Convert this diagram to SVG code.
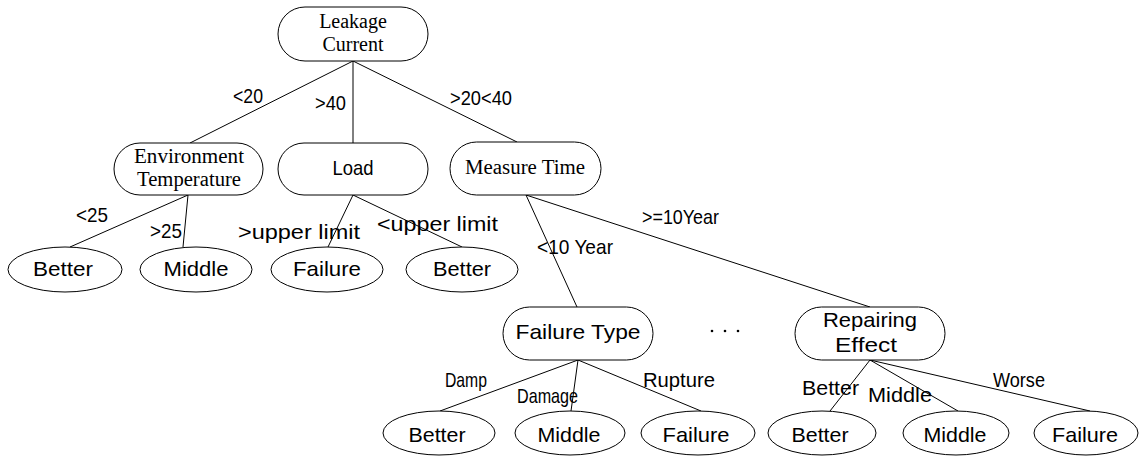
<svg xmlns="http://www.w3.org/2000/svg" width="1144" height="456" viewBox="0 0 1144 456">
<style>
.box{fill:#fff;stroke:#000;stroke-width:1}
.edge{stroke:#000;stroke-width:1;fill:none}
.serif{font-family:"Liberation Serif","Times New Roman",serif;font-size:20px;fill:#000;text-anchor:middle}
.sans{font-family:"Liberation Sans",Arial,sans-serif;font-size:21px;fill:#000}
.mid{text-anchor:middle}
</style>
<rect width="1144" height="456" fill="#fff"/>
<g id="connectors">
<line class="edge" x1="353" y1="61" x2="190" y2="143"/>
<line class="edge" x1="353" y1="61" x2="353" y2="143"/>
<line class="edge" x1="353" y1="61" x2="517" y2="142"/>
<line class="edge" x1="188" y1="195" x2="70" y2="247"/>
<line class="edge" x1="188" y1="195" x2="183" y2="247"/>
<line class="edge" x1="353" y1="195" x2="328" y2="247"/>
<line class="edge" x1="353" y1="195" x2="462" y2="247"/>
<line class="edge" x1="526" y1="195" x2="577" y2="307"/>
<line class="edge" x1="526" y1="195" x2="870" y2="307"/>
<line class="edge" x1="578" y1="360" x2="440" y2="411"/>
<line class="edge" x1="578" y1="360" x2="571" y2="411"/>
<line class="edge" x1="578" y1="360" x2="701" y2="411"/>
<line class="edge" x1="870" y1="360" x2="830" y2="411"/>
<line class="edge" x1="870" y1="360" x2="958" y2="411"/>
<line class="edge" x1="870" y1="360" x2="1090" y2="411"/>
<text class="sans" x="233" y="103" textLength="30" lengthAdjust="spacingAndGlyphs">&lt;20</text>
<text class="sans" x="315" y="110" textLength="31" lengthAdjust="spacingAndGlyphs">&gt;40</text>
<text class="sans" x="450" y="105" textLength="62" lengthAdjust="spacingAndGlyphs">&gt;20&lt;40</text>
<text class="sans" x="76" y="222" textLength="32" lengthAdjust="spacingAndGlyphs">&lt;25</text>
<text class="sans" x="150" y="238" textLength="32" lengthAdjust="spacingAndGlyphs">&gt;25</text>
<text class="sans" x="238" y="239" textLength="122" lengthAdjust="spacingAndGlyphs">&gt;upper limit</text>
<text class="sans" x="377" y="231" textLength="121" lengthAdjust="spacingAndGlyphs">&lt;upper limit</text>
<text class="sans" x="537" y="254" textLength="76" lengthAdjust="spacingAndGlyphs">&lt;10 Year</text>
<text class="sans" x="642" y="224" textLength="77" lengthAdjust="spacingAndGlyphs">&gt;=10Year</text>
<text class="sans" x="445" y="387" textLength="42" lengthAdjust="spacingAndGlyphs">Damp</text>
<text class="sans" x="517" y="403" textLength="61" lengthAdjust="spacingAndGlyphs">Damage</text>
<text class="sans" x="643" y="387" textLength="72" lengthAdjust="spacingAndGlyphs">Rupture</text>
<text class="sans" x="802" y="395" textLength="57" lengthAdjust="spacingAndGlyphs">Better</text>
<text class="sans" x="868" y="402" textLength="64" lengthAdjust="spacingAndGlyphs">Middle</text>
<text class="sans" x="993" y="387" textLength="52" lengthAdjust="spacingAndGlyphs">Worse</text>
</g>
<g id="root">
<rect class="box" x="278" y="7" width="150" height="54" rx="27"/>
<text class="serif" x="353" y="28">Leakage</text>
<text class="serif" x="353" y="51">Current</text>
</g>
<g id="env">
<rect class="box" x="114" y="143" width="149" height="52" rx="26"/>
<text class="serif" x="189" y="163" textLength="110" lengthAdjust="spacingAndGlyphs">Environment</text>
<text class="serif" x="189" y="186" textLength="104" lengthAdjust="spacingAndGlyphs">Temperature</text>
</g>
<g id="load">
<rect class="box" x="278" y="143" width="150" height="52" rx="26"/>
<text class="sans mid" x="353" y="175" textLength="41" lengthAdjust="spacingAndGlyphs">Load</text>
</g>
<g id="measure">
<rect class="box" x="450" y="142" width="151" height="53" rx="26.5"/>
<text class="serif" x="525" y="174" textLength="120" lengthAdjust="spacingAndGlyphs">Measure Time</text>
</g>
<g id="leaf1">
<ellipse class="box" cx="65" cy="269.5" rx="57" ry="22.5"/>
<text class="sans mid" x="63" y="276" textLength="60" lengthAdjust="spacingAndGlyphs">Better</text>
</g>
<g id="leaf2">
<ellipse class="box" cx="196" cy="269.5" rx="56" ry="22.5"/>
<text class="sans mid" x="196" y="276" textLength="65" lengthAdjust="spacingAndGlyphs">Middle</text>
</g>
<g id="leaf3">
<ellipse class="box" cx="327" cy="269.5" rx="56" ry="22.5"/>
<text class="sans mid" x="327" y="276" textLength="68" lengthAdjust="spacingAndGlyphs">Failure</text>
</g>
<g id="leaf4">
<ellipse class="box" cx="462" cy="269.5" rx="56" ry="22.5"/>
<text class="sans mid" x="462" y="276" textLength="58" lengthAdjust="spacingAndGlyphs">Better</text>
</g>
<g id="failtype">
<rect class="box" x="503" y="307" width="150" height="53" rx="26.5"/>
<text class="sans mid" x="578" y="339" textLength="125" lengthAdjust="spacingAndGlyphs">Failure Type</text>
</g>
<g id="dots">
<circle cx="712" cy="331" r="1.3" fill="#000"/>
<circle cx="725" cy="331" r="1.3" fill="#000"/>
<circle cx="738" cy="331" r="1.3" fill="#000"/>
</g>
<g id="repair">
<rect class="box" x="795" y="307" width="150" height="53" rx="26.5"/>
<text class="sans mid" x="870" y="327" textLength="94" lengthAdjust="spacingAndGlyphs">Repairing</text>
<text class="sans mid" x="866" y="352" textLength="62" lengthAdjust="spacingAndGlyphs">Effect</text>
</g>
<g id="leaf5">
<ellipse class="box" cx="439" cy="433" rx="56" ry="22"/>
<text class="sans mid" x="437" y="442" textLength="57" lengthAdjust="spacingAndGlyphs">Better</text>
</g>
<g id="leaf6">
<ellipse class="box" cx="570" cy="433" rx="55" ry="22"/>
<text class="sans mid" x="569" y="442" textLength="63" lengthAdjust="spacingAndGlyphs">Middle</text>
</g>
<g id="leaf7">
<ellipse class="box" cx="698" cy="433" rx="57" ry="22"/>
<text class="sans mid" x="696" y="442" textLength="67" lengthAdjust="spacingAndGlyphs">Failure</text>
</g>
<g id="leaf8">
<ellipse class="box" cx="822" cy="433" rx="54" ry="22"/>
<text class="sans mid" x="820" y="442" textLength="57" lengthAdjust="spacingAndGlyphs">Better</text>
</g>
<g id="leaf9">
<ellipse class="box" cx="956" cy="433" rx="53" ry="22"/>
<text class="sans mid" x="955" y="442" textLength="63" lengthAdjust="spacingAndGlyphs">Middle</text>
</g>
<g id="leaf10">
<ellipse class="box" cx="1086" cy="433" rx="52" ry="22"/>
<text class="sans mid" x="1085" y="442" textLength="66" lengthAdjust="spacingAndGlyphs">Failure</text>
</g>
</svg>
